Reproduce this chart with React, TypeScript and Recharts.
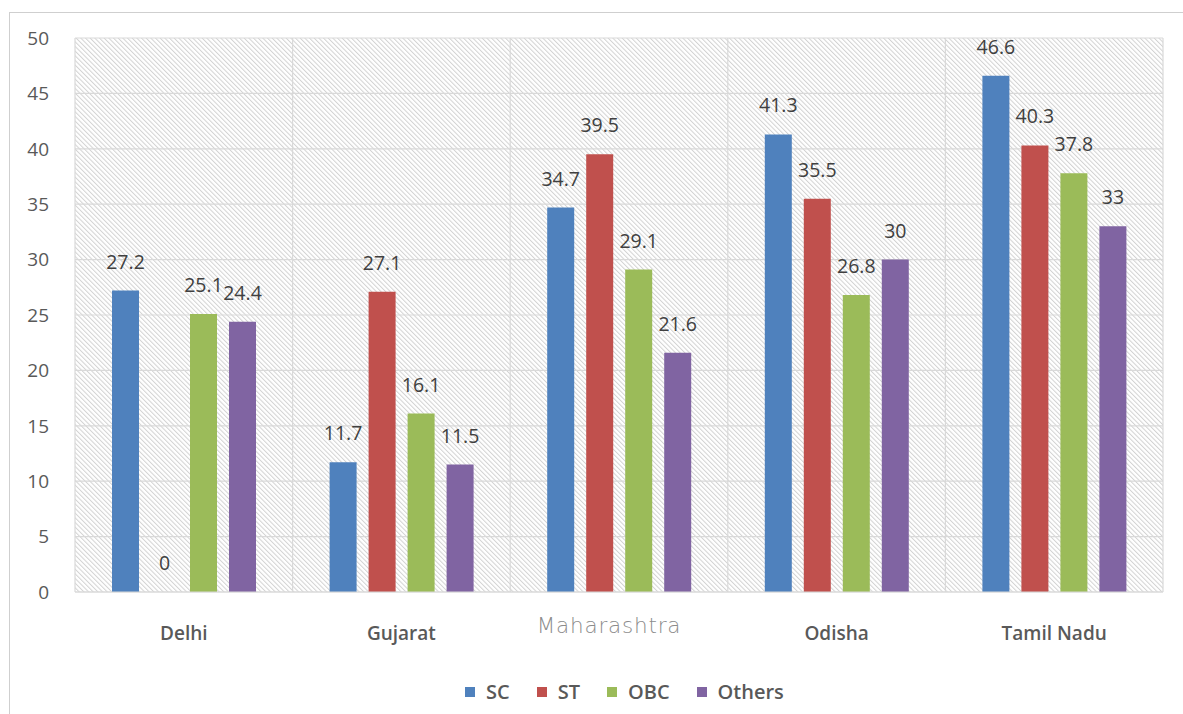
import React from 'react';
import { BarChart, Bar, XAxis, YAxis, CartesianGrid, LabelList } from 'recharts';

const categories = ['Delhi', 'Gujarat', 'Maharashtra', 'Odisha', 'Tamil Nadu'];
const scValues = [27.2, 11.7, 34.7, 41.3, 46.6];
const stValues = [0, 27.1, 39.5, 35.5, 40.3];
const obcValues = [25.1, 16.1, 29.1, 26.8, 37.8];
const othersValues = [24.4, 11.5, 21.6, 30, 33];
const yTicks = [0, 5, 10, 15, 20, 25, 30, 35, 40, 45, 50];

const seriesNames = ['SC', 'ST', 'OBC', 'Others'];
const seriesKeys = ['sc', 'st', 'obc', 'others'];
const seriesColors = ['#4f81bd', '#c0504d', '#9bbb59', '#8064a2'];

const data = categories.map((c, i) => ({
  name: c,
  sc: scValues[i],
  st: stValues[i],
  obc: obcValues[i],
  others: othersValues[i],
}));

const FONT = '"Open Sans", "Noto Sans", sans-serif';

const XTick = (props: any) => {
  const { x, y, payload } = props;
  if (payload.value === 'Maharashtra') {
    return (
      <text
        x={x - 10}
        y={y + 33}
        textAnchor="middle"
        fill="#8c8c8c"
        fontSize={21.5}
        fontWeight={200}
        letterSpacing={0.8}
        fontFamily='"DejaVu Sans", sans-serif'
      >
        {payload.value}
      </text>
    );
  }
  return (
    <text
      x={x}
      y={y + 40}
      textAnchor="middle"
      fill="#595959"
      fontSize={19}
      fontWeight={600}
      fontFamily={FONT}
    >
      {payload.value}
    </text>
  );
};

const ValueLabel = (props: any) => {
  const { x, y, width, value } = props;
  if (value === undefined || value === null) return null;
  return (
    <text
      x={Number(x) + Number(width) / 2}
      y={Number(y) - 22}
      textAnchor="middle"
      fill="#404040"
      fontSize={19.5}
      fontFamily={FONT}
    >
      {value}
    </text>
  );
};

export default function App() {
  return (
    <div
      style={{
        position: 'fixed',
        left: 0,
        top: 0,
        width: 1183,
        height: 714,
        overflow: 'hidden',
        background: '#ffffff',
      }}
    >
      <div
        style={{
          position: 'absolute',
          left: 9,
          top: 12,
          width: 1400,
          height: 900,
          border: '1px solid #cfcfcf',
        }}
      />
      <div style={{ position: 'absolute', left: 0, top: 0 }}>
        <BarChart
          width={1183}
          height={714}
          data={data}
          margin={{ top: 38, right: 20, left: 0, bottom: 0 }}
          barSize={27}
          barGap={12}
          style={{ fontFamily: FONT }}
        >
          <defs>
            <pattern
              id="hatch"
              patternUnits="userSpaceOnUse"
              width={3.3}
              height={3.3}
              patternTransform="rotate(-45)"
            >
              <rect x={0} y={0} width={3.3} height={3.3} fill="#ffffff" />
              <line x1={0.5} y1={0} x2={0.5} y2={3.3} stroke="#d2d2d2" strokeWidth={1} />
            </pattern>
          </defs>
          <CartesianGrid
            fill="url(#hatch)"
            fillOpacity={1}
            stroke="#d9d9d9"
            strokeWidth={1.2}
            verticalCoordinatesGenerator={({ offset }: any) =>
              [0, 1, 2, 3, 4, 5].map((i) => offset.left + (i * offset.width) / 5)
            }
          />
          <XAxis
            dataKey="name"
            height={122}
            axisLine={{ stroke: '#d9d9d9' }}
            tickLine={false}
            tick={<XTick />}
            interval={0}
          />
          <YAxis
            width={75}
            domain={[0, 50]}
            ticks={yTicks}
            axisLine={false}
            tickLine={false}
            tickMargin={20}
            tick={{ fill: '#595959', fontSize: 19, fontFamily: FONT }}
          />
          {seriesKeys.map((k, i) => (
            <Bar
              key={k}
              dataKey={k}
              name={seriesNames[i]}
              fill={seriesColors[i]}
              minPointSize={0.01}
              isAnimationActive={false}
            >
              <LabelList dataKey={k} content={<ValueLabel />} />
            </Bar>
          ))}
        </BarChart>
      </div>
      <div
        style={{
          position: 'absolute',
          left: 465,
          top: 678,
          display: 'flex',
          alignItems: 'center',
          fontFamily: FONT,
          fontSize: 20,
          color: '#595959',
          fontWeight: 600,
          whiteSpace: 'nowrap',
        }}
      >
        {seriesNames.map((n, i) => (
          <div key={n} style={{ display: 'flex', alignItems: 'center', marginRight: 27 }}>
            <div style={{ width: 10, height: 10, background: seriesColors[i], marginRight: 11 }} />
            <span>{n}</span>
          </div>
        ))}
      </div>
    </div>
  );
}
